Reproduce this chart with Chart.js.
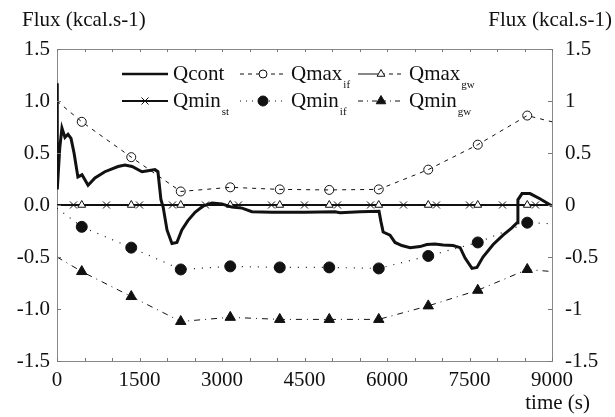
<!DOCTYPE html>
<html>
<head>
<meta charset="utf-8">
<script src="https://cdn.jsdelivr.net/npm/chart.js@4.4.1/dist/chart.umd.min.js"></script>
<style>
  html, body { margin: 0; padding: 0; background: #fff; }
  #wrap { width: 615px; height: 417px; position: relative; }
</style>
</head>
<body>
<div id="wrap"><canvas id="flux-chart"></canvas></div>
<script>
// time axis (s) and tick values
const xTicks = [0, 1500, 3000, 4500, 6000, 7500, 9000];
const yTicks = [-1.5, -1, -0.5, 0, 0.5, 1, 1.5];

// Qcont trace
const qcontTime = [0, 5, 50, 90, 145, 200, 255, 310, 380, 455, 565, 690, 870, 1110, 1235, 1365, 1545, 1655, 1780, 1835,
  1890, 1930, 2000, 2090, 2180, 2270, 2380, 2510, 2655, 2820, 3000, 3180, 3365, 3545, 3910, 4510, 5055, 5145, 5510, 5855,
  5890, 5930, 6055, 6145, 6270, 6420, 6600, 6725, 6870, 7020, 7200, 7330, 7420, 7545, 7635, 7745, 7930, 8110, 8270, 8365,
  8380, 8455, 8600, 8780, 9000];
const qcontFlux = [1.17, 0.15, 0.55, 0.74, 0.65, 0.68, 0.64, 0.5, 0.27, 0.29, 0.19, 0.26, 0.32, 0.37, 0.385, 0.37, 0.32, 0.33, 0.34, 0.32,
  0.05, -0.02, -0.24, -0.37, -0.36, -0.24, -0.15, -0.07, -0.01, 0.02, 0.01, -0.02, -0.03, -0.065, -0.07, -0.07, -0.065, -0.075, -0.065, -0.06,
  -0.16, -0.26, -0.29, -0.36, -0.39, -0.41, -0.40, -0.38, -0.375, -0.385, -0.39, -0.41, -0.51, -0.61, -0.60, -0.50, -0.38, -0.29, -0.22, -0.17,
  0.05, 0.11, 0.11, 0.06, -0.01];

// envelope series (markers every 900 s, line ends at 0 and 9000)
const envTime = [0, 450, 1350, 2250, 3150, 4050, 4950, 5850, 6750, 7650, 8550, 9000];
const qmaxIf = [1.0, 0.80, 0.46, 0.13, 0.17, 0.15, 0.145, 0.15, 0.34, 0.58, 0.86, 0.80];
const qminIf = [-0.03, -0.21, -0.41, -0.62, -0.59, -0.60, -0.60, -0.61, -0.49, -0.36, -0.17, -0.18];
const qminGw = [-0.50, -0.64, -0.88, -1.12, -1.08, -1.10, -1.10, -1.10, -0.97, -0.82, -0.62, -0.64];
const qmaxGw = [0, 0, 0, 0, 0, 0, 0, 0, 0, 0, 0, 0];

// Qmin_st, markers every 600 s
const stTime = [0, 300, 900, 1500, 2100, 2700, 3300, 3900, 4500, 5100, 5700, 6300, 6900, 7500, 8100, 8700, 9000];
const qminSt = [0, 0, 0, 0, 0, 0, 0, 0, 0, 0, 0, 0, 0, 0, 0, 0, 0];

const FONT = "'Liberation Serif', 'DejaVu Serif', serif";
const INK = '#111';

function toPoints(xs, ys) {
  return xs.map((x, i) => ({ x, y: ys[i] }));
}

function endRadius(xs, r) {
  return xs.map((_, i) => (i === 0 || i === xs.length - 1) ? 0 : r);
}

function formatRight(v) {
  return String(Math.round(v * 10) / 10);
}

const legendItems = [
  { name: 'Qcont', sub: '', col: 0, row: 0, dashL: [], dashR: [], width: 2.5, marker: null },
  { name: 'Qmax', sub: 'if', col: 1, row: 0, dashL: [4, 4], dashR: [4, 4], width: 1, marker: { style: 'circle', r: 4, fill: false } },
  { name: 'Qmax', sub: 'gw', col: 2, row: 0, dashL: [], dashR: [4, 4], width: 1, marker: { style: 'triangle', r: 4.5, fill: false } },
  { name: 'Qmin', sub: 'st', col: 0, row: 1, dashL: [], dashR: [], width: 2, marker: { style: 'crossRot', r: 5, fill: false } },
  { name: 'Qmin', sub: 'if', col: 1, row: 1, dashL: [1, 5], dashR: [1, 5], width: 1.2, marker: { style: 'circle', r: 5, fill: true } },
  { name: 'Qmin', sub: 'gw', col: 2, row: 1, dashL: [5, 4, 1, 4], dashR: [5, 4, 1, 4], width: 1, marker: { style: 'triangle', r: 5.5, fill: true } }
];

const decorPlugin = {
  id: 'decor',
  afterDraw(chart) {
    const ctx = chart.ctx;
    const area = chart.chartArea;
    const xs = chart.scales.x;
    const ys = chart.scales.y;
    ctx.save();

    // top frame line
    ctx.strokeStyle = '#888';
    ctx.lineWidth = 1;
    ctx.beginPath();
    ctx.moveTo(area.left, area.top + 0.5);
    ctx.lineTo(area.right, area.top + 0.5);
    ctx.stroke();

    // small inward ticks
    ctx.strokeStyle = '#777';
    ctx.beginPath();
    for (let v = 0; v <= 9000; v += 500) {
      const px = Math.round(xs.getPixelForValue(v)) + 0.5;
      ctx.moveTo(px, area.bottom);
      ctx.lineTo(px, area.bottom - 3);
      ctx.moveTo(px, area.top);
      ctx.lineTo(px, area.top + 3);
    }
    yTicks.forEach((v) => {
      const py = Math.round(ys.getPixelForValue(v)) + 0.5;
      ctx.moveTo(area.left, py);
      ctx.lineTo(area.left + 4, py);
      ctx.moveTo(area.right, py);
      ctx.lineTo(area.right - 4, py);
    });
    ctx.stroke();

    // axis titles
    ctx.fillStyle = INK;
    ctx.font = '21px ' + FONT;
    ctx.textBaseline = 'middle';
    ctx.textAlign = 'left';
    ctx.fillText('Flux (kcal.s-1)', 22, 20);
    ctx.textAlign = 'right';
    ctx.fillText('Flux (kcal.s-1)', 612, 20);
    ctx.fillText('time (s)', 590, 403);

    // legend
    const colX = [122, 240, 358];
    const rowY = [74, 101];
    legendItems.forEach((item) => {
      const x1 = colX[item.col];
      const x2 = x1 + 46;
      const xm = (x1 + x2) / 2;
      const y = rowY[item.row];
      ctx.strokeStyle = INK;
      ctx.lineWidth = item.width;
      ctx.setLineDash(item.dashL);
      ctx.beginPath();
      ctx.moveTo(x1, y);
      ctx.lineTo(xm, y);
      ctx.stroke();
      ctx.setLineDash(item.dashR);
      ctx.beginPath();
      ctx.moveTo(xm, y);
      ctx.lineTo(x2, y);
      ctx.stroke();
      ctx.setLineDash([]);
      if (item.marker) {
        ctx.fillStyle = item.marker.fill ? INK : '#fff';
        ctx.strokeStyle = INK;
        ctx.lineWidth = 1;
        Chart.helpers.drawPoint(ctx, { pointStyle: item.marker.style, radius: item.marker.r, rotation: 0, borderWidth: 1 }, xm, y);
      }
      ctx.fillStyle = INK;
      ctx.textAlign = 'left';
      ctx.textBaseline = 'middle';
      ctx.font = '21px ' + FONT;
      ctx.fillText(item.name, x2 + 5, y);
      if (item.sub) {
        const w = ctx.measureText(item.name).width;
        ctx.font = '11px ' + FONT;
        ctx.fillText(item.sub, x2 + 6 + w, y + 11);
      }
    });
    ctx.restore();
  }
};

const lineBase = {
  borderColor: INK,
  pointBorderColor: INK,
  pointBorderWidth: 1,
  tension: 0,
  fill: false
};

new Chart(document.getElementById('flux-chart'), {
  type: 'line',
  data: {
    datasets: [
      Object.assign({}, lineBase, {
        label: 'Qcont',
        data: toPoints(qcontTime, qcontFlux),
        borderWidth: 3,
        pointRadius: 0,
        order: 0
      }),
      Object.assign({}, lineBase, {
        label: 'Qmin_st',
        data: toPoints(stTime, qminSt),
        borderWidth: 2,
        pointStyle: 'crossRot',
        pointRadius: endRadius(stTime, 5),
        order: 2
      }),
      Object.assign({}, lineBase, {
        label: 'Qmax_gw',
        data: toPoints(envTime, qmaxGw),
        borderWidth: 1,
        borderDash: [4, 4],
        pointStyle: 'triangle',
        pointRadius: endRadius(envTime, 4.5),
        pointBackgroundColor: '#fff',
        order: 1
      }),
      Object.assign({}, lineBase, {
        label: 'Qmax_if',
        data: toPoints(envTime, qmaxIf),
        borderWidth: 1,
        borderDash: [4, 5],
        pointStyle: 'circle',
        pointRadius: endRadius(envTime, 4.5),
        pointBackgroundColor: 'rgba(0,0,0,0)',
        order: 3
      }),
      Object.assign({}, lineBase, {
        label: 'Qmin_if',
        data: toPoints(envTime, qminIf),
        borderWidth: 1.2,
        borderDash: [1, 7],
        pointStyle: 'circle',
        pointRadius: endRadius(envTime, 5.5),
        pointBackgroundColor: INK,
        order: 4
      }),
      Object.assign({}, lineBase, {
        label: 'Qmin_gw',
        data: toPoints(envTime, qminGw),
        borderWidth: 1,
        borderDash: [6, 5, 1, 5],
        pointStyle: 'triangle',
        pointRadius: endRadius(envTime, 6),
        pointBackgroundColor: INK,
        order: 5
      })
    ]
  },
  options: {
    responsive: true,
    maintainAspectRatio: false,
    animation: false,
    events: [],
    layout: { padding: { top: 49, left: 0, right: 0, bottom: 0 } },
    plugins: {
      legend: { display: false },
      tooltip: { enabled: false }
    },
    scales: {
      x: {
        type: 'linear',
        min: 0,
        max: 9000,
        afterBuildTicks(scale) { scale.ticks = xTicks.map((v) => ({ value: v })); },
        afterFit(scale) { scale.height = 56; },
        grid: { display: false, drawTicks: false },
        border: { display: true, color: '#888', width: 1, dash: [1, 1] },
        ticks: {
          color: INK,
          padding: 7,
          maxRotation: 0,
          font: { family: FONT, size: 21 },
          callback(value) { return String(value); }
        }
      },
      y: {
        position: 'left',
        min: -1.5,
        max: 1.5,
        afterBuildTicks(scale) { scale.ticks = yTicks.map((v) => ({ value: v })); },
        afterFit(scale) { scale.width = 57; },
        grid: { display: false, drawTicks: false },
        border: { display: true, color: '#888', width: 1 },
        ticks: {
          color: INK,
          padding: 7,
          font: { family: FONT, size: 21 },
          callback(value) { return Number(value).toFixed(1); }
        }
      },
      y2: {
        position: 'right',
        min: -1.5,
        max: 1.5,
        afterBuildTicks(scale) { scale.ticks = yTicks.map((v) => ({ value: v })); },
        afterFit(scale) { scale.width = 63; },
        grid: { display: false, drawTicks: false },
        border: { display: true, color: '#888', width: 1, dash: [1, 1] },
        ticks: {
          color: INK,
          padding: 13,
          font: { family: FONT, size: 21 },
          callback(value) { return formatRight(value); }
        }
      }
    }
  },
  plugins: [decorPlugin]
});
</script>
</body>
</html>
